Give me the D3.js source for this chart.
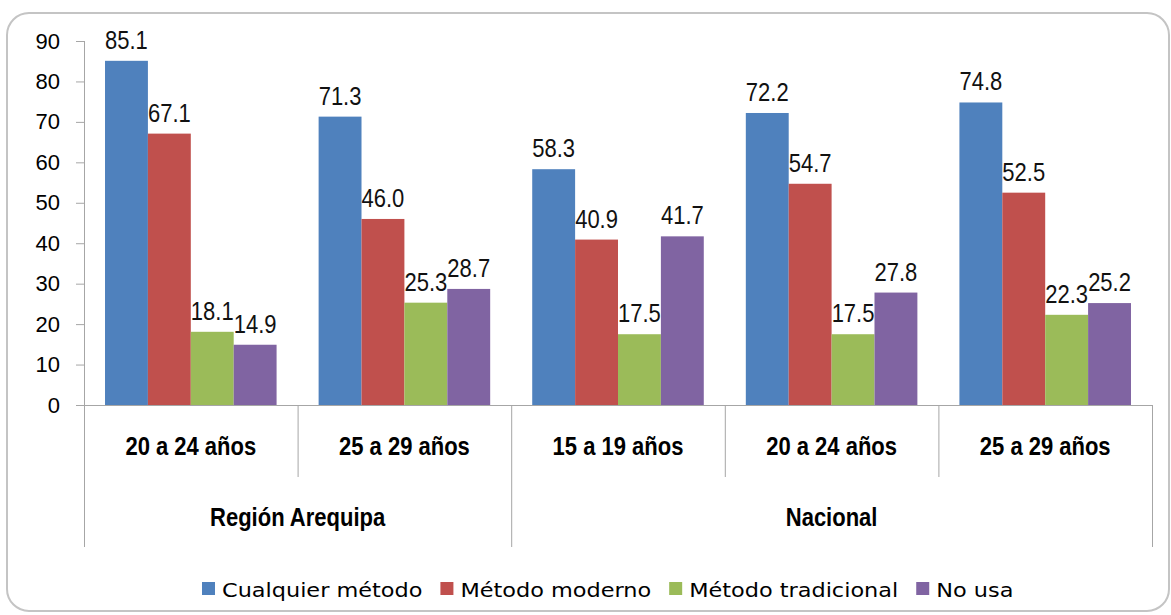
<!DOCTYPE html>
<html>
<head>
<meta charset="utf-8">
<script src="https://cdn.jsdelivr.net/npm/d3@7"></script>
<style>
    body { margin: 0; background: #fff; }
    #chart { width: 1171px; height: 615px; }
    .axis path, .axis line { stroke: #a6a6a6; }
    .axis text { font-family: "Liberation Sans", Arial, sans-serif; font-size: 22px; fill: #000; }
</style>
</head>
<body>
<div id="chart"></div>
<script>
// data
const groups = ["Región Arequipa", "Nacional"];
const categories = ["20 a 24 años", "25 a 29 años", "15 a 19 años", "20 a 24 años", "25 a 29 años"];
const categoryGroup = [0, 0, 1, 1, 1];
const seriesNames = ["Cualquier método", "Método moderno", "Método tradicional", "No usa"];
const seriesColors = ["#4F81BD", "#C0504D", "#9BBB59", "#8064A2"];
const cualquier = [85.1, 71.3, 58.3, 72.2, 74.8];
const moderno = [67.1, 46.0, 40.9, 54.7, 52.5];
const tradicional = [18.1, 25.3, 17.5, 17.5, 22.3];
const noUsa = [14.9, 28.7, 41.7, 27.8, 25.2];
const yTicks = [0, 10, 20, 30, 40, 50, 60, 70, 80, 90];

const seriesValues = [cualquier, moderno, tradicional, noUsa];

/*
SETTING UP THE SVG CANVAS
*/
const width = 1171;
const height = 615;
const margin = {
    top: 41,
    left: 84,
    right: 19,
    bottom: 210
};
const narrow = 0.88; // text in the source is squeezed horizontally

const svg = d3.select("#chart")
    .append("svg")
    .attr("width", width)
    .attr("height", height);

// rounded outer frame
svg.append("rect")
    .attr("x", 7)
    .attr("y", 13)
    .attr("width", 1162)
    .attr("height", 598)
    .attr("rx", 22)
    .attr("fill", "#fff")
    .attr("stroke", "#c4c4c4")
    .attr("stroke-width", 2);

/*
DEFINE SCALES
*/
const xScale = d3.scaleBand()
    .domain(d3.range(categories.length))
    .range([margin.left, width - margin.right]);

const xInner = d3.scaleBand()
    .domain(d3.range(seriesNames.length))
    .range([0, xScale.bandwidth()])
    .paddingOuter(0.49);

const yScale = d3.scaleLinear()
    .domain([0, 90])
    .range([height - margin.bottom, margin.top]);

const baseY = yScale(0);

/*
GENERATE AXES
*/
const yAxis = svg.append("g")
    .attr("class", "axis")
    .attr("transform", `translate(${margin.left},0)`)
    .call(d3.axisLeft(yScale).tickValues(yTicks).tickSize(8).tickPadding(16).tickSizeOuter(0));
yAxis.select(".domain").attr("d", `M0.5,${yScale(90)}V${baseY}`);

/*
DRAW THE BARS
*/
seriesValues.forEach(function (vals, s) {
    svg.selectAll(".bar" + s)
        .data(vals)
        .enter()
        .append("rect")
        .attr("class", "bar" + s)
        .attr("x", (d, i) => xScale(i) + xInner(s))
        .attr("y", d => yScale(d))
        .attr("width", xInner.bandwidth())
        .attr("height", d => baseY - yScale(d))
        .attr("fill", seriesColors[s]);

    svg.selectAll(".label" + s)
        .data(vals)
        .enter()
        .append("text")
        .attr("transform", (d, i) => `translate(${xScale(i) + xInner(s) + xInner.bandwidth() / 2},${yScale(d) - 12}) scale(${narrow},1)`)
        .attr("text-anchor", "middle")
        .attr("font-family", "Liberation Sans, Arial, sans-serif")
        .attr("font-size", 25)
        .attr("fill", "#111")
        .text(d => d3.format(".1f")(d));
});

// x axis baseline
svg.append("line")
    .attr("x1", margin.left)
    .attr("x2", width - margin.right)
    .attr("y1", baseY + 0.5)
    .attr("y2", baseY + 0.5)
    .attr("stroke", "#a6a6a6");

/*
CATEGORY AND GROUP LABELS
*/
const dividers = d3.range(categories.length + 1);
svg.selectAll(".divider")
    .data(dividers)
    .enter()
    .append("line")
    .attr("x1", i => i < categories.length ? xScale(i) + 0.5 : width - margin.right + 0.5)
    .attr("x2", i => i < categories.length ? xScale(i) + 0.5 : width - margin.right + 0.5)
    .attr("y1", baseY)
    .attr("y2", function (i) {
        // long line where a group starts or ends
        const isEdge = i === 0 || i === categories.length || categoryGroup[i] !== categoryGroup[i - 1];
        return isEdge ? 547 : 477;
    })
    .attr("stroke", "#a6a6a6");

svg.selectAll(".catLabel")
    .data(categories)
    .enter()
    .append("text")
    .attr("transform", (d, i) => `translate(${xScale(i) + xScale.bandwidth() / 2},455) scale(${narrow},1)`)
    .attr("text-anchor", "middle")
    .attr("font-family", "Liberation Sans, Arial, sans-serif")
    .attr("font-weight", "bold")
    .attr("font-size", 25)
    .attr("fill", "#000")
    .text(d => d);

svg.selectAll(".groupLabel")
    .data(groups)
    .enter()
    .append("text")
    .attr("transform", function (d, g) {
        const idx = d3.range(categories.length).filter(i => categoryGroup[i] === g);
        const cx = (xScale(idx[0]) + xScale(idx[idx.length - 1]) + xScale.bandwidth()) / 2;
        return `translate(${cx},526) scale(${narrow},1)`;
    })
    .attr("text-anchor", "middle")
    .attr("font-family", "Liberation Sans, Arial, sans-serif")
    .attr("font-weight", "bold")
    .attr("font-size", 25)
    .attr("fill", "#000")
    .text(d => d);

/*
LEGEND
*/
const legend = svg.append("g").attr("transform", "translate(202,0)");
let lx = 0;
seriesNames.forEach(function (name, s) {
    legend.append("rect")
        .attr("x", lx)
        .attr("y", 582)
        .attr("width", 13)
        .attr("height", 13)
        .attr("fill", seriesColors[s]);
    const t = legend.append("text")
        .attr("transform", `translate(${lx + 20},597) scale(1.12,1)`)
        .attr("font-family", "DejaVu Sans, sans-serif")
        .attr("font-size", 20)
        .attr("fill", "#000")
        .text(name);
    lx += 20 + t.node().getComputedTextLength() * 1.12 + 18;
});
</script>
</body>
</html>
